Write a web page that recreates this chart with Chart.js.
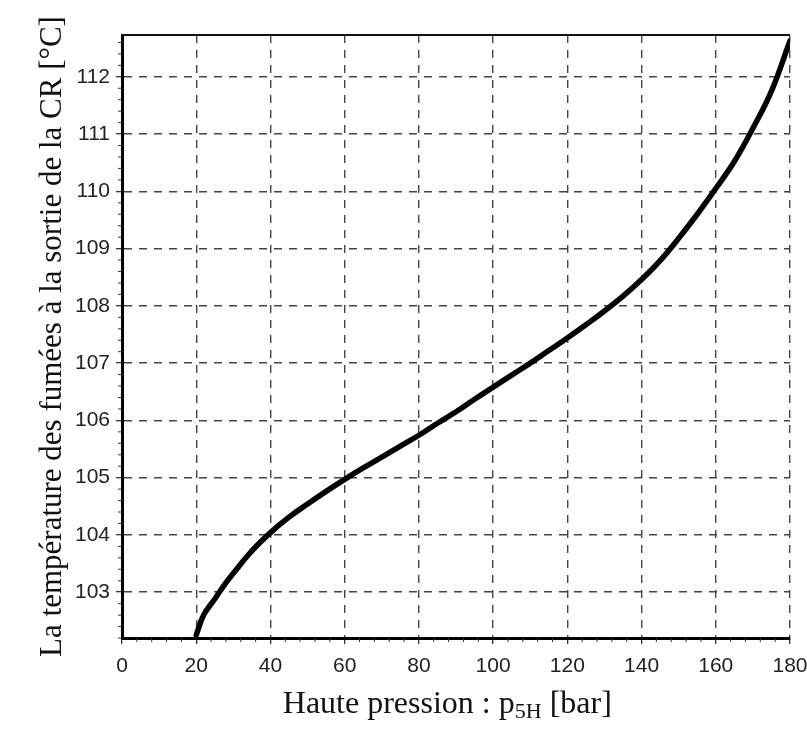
<!DOCTYPE html>
<html>
<head>
<meta charset="utf-8">
<script src="https://cdn.jsdelivr.net/npm/chart.js@4/dist/chart.umd.min.js"></script>
<style>
  html, body { margin: 0; padding: 0; background: #ffffff; }
  #wrap { width: 807px; height: 734px; position: relative; }
</style>
</head>
<body>
<div id="wrap"><canvas id="c" width="807" height="734"></canvas></div>
<script>
// Data
const pressure = [20, 22, 25, 27.5, 30, 35, 40, 45, 50, 55, 60, 65, 70, 75, 80, 85, 90, 95, 100, 105, 110, 115, 120, 125, 130, 135, 140, 145, 150, 155, 160, 165, 170, 175, 180];
const temperature = [102.25, 102.6, 102.88, 103.12, 103.33, 103.72, 104.04, 104.31, 104.54, 104.76, 104.97, 105.17, 105.36, 105.55, 105.74, 105.95, 106.15, 106.37, 106.58, 106.79, 107.0, 107.22, 107.44, 107.67, 107.91, 108.17, 108.46, 108.79, 109.18, 109.6, 110.05, 110.52, 111.1, 111.75, 112.63];
const xTicks = [0, 20, 40, 60, 80, 100, 120, 140, 160, 180];
const yTicks = [103, 104, 105, 106, 107, 108, 109, 110, 111, 112];
const xTitleParts = ["Haute pression : p", "5H", " [bar]"];
const yTitle = "La température des fumées à la sortie de la CR [°C]";

const points = pressure.map((p, i) => ({ x: p, y: temperature[i] }));

const framePlugin = {
  id: 'frame',
  afterDraw(chart) {
    const ctx = chart.ctx;
    const a = chart.chartArea;
    const xs = chart.scales.x, ys = chart.scales.y;
    ctx.save();
    ctx.setLineDash([]);
    // top solid border
    ctx.strokeStyle = '#111';
    ctx.lineWidth = 2;
    ctx.beginPath();
    ctx.moveTo(a.left - 1, a.top);
    ctx.lineTo(a.right, a.top);
    ctx.stroke();
    // minor ticks
    ctx.lineWidth = 1;
    ctx.strokeStyle = '#333';
    for (let v = 0; v <= 180; v += 4) {
      if (v % 20 === 0) continue;
      const px = xs.getPixelForValue(v);
      ctx.beginPath();
      ctx.moveTo(px, a.bottom);
      ctx.lineTo(px, a.bottom + 4);
      ctx.stroke();
    }
    for (let k = 0; k < 60; k++) {
      const v = 102.2 + k * 0.2;
      if (v > ys.max) break;
      if (Math.abs(v - Math.round(v)) < 0.01) continue;
      const py = ys.getPixelForValue(v);
      ctx.beginPath();
      ctx.moveTo(a.left, py);
      ctx.lineTo(a.left - 4, py);
      ctx.stroke();
    }
    // axis titles
    ctx.fillStyle = '#111';
    ctx.textBaseline = 'alphabetic';
    const big = '32px "Liberation Serif"';
    const small = '22px "Liberation Serif"';
    ctx.font = big;
    const w0 = ctx.measureText(xTitleParts[0]).width;
    const w2 = ctx.measureText(xTitleParts[2]).width;
    ctx.font = small;
    const w1 = ctx.measureText(xTitleParts[1]).width;
    const total = w0 + w1 + w2;
    const cx = a.left + (a.right - a.left) * 0.487;
    let x = cx - total / 2;
    const by = chart.height - 21;
    ctx.textAlign = 'left';
    ctx.font = big;
    ctx.fillText(xTitleParts[0], x, by);
    x += w0;
    ctx.font = small;
    ctx.fillText(xTitleParts[1], x, by + 5);
    x += w1;
    ctx.font = big;
    ctx.fillText(xTitleParts[2], x, by);

    ctx.translate(61, (a.top + a.bottom) / 2);
    ctx.rotate(-Math.PI / 2);
    ctx.textAlign = 'center';
    ctx.font = '31px "Liberation Serif"';
    ctx.fillText(yTitle, 0, 0);
    ctx.restore();
  }
};

const gridOpts = {
  color: '#444',
  lineWidth: 1.4,
  tickBorderDash: [],
  tickLength: 6,
  tickColor: '#222',
  tickWidth: 1.2
};

new Chart(document.getElementById('c'), {
  type: 'scatter',
  data: {
    datasets: [{
      data: points,
      showLine: true,
      borderColor: '#000',
      backgroundColor: '#000',
      borderWidth: 5.5,
      pointRadius: 0,
      tension: 0.4,
      borderCapStyle: 'round'
    }]
  },
  options: {
    responsive: false,
    animation: false,
    layout: { padding: { left: 0, right: 17, top: 35, bottom: 0 } },
    plugins: { legend: { display: false }, tooltip: { enabled: false } },
    scales: {
      x: {
        type: 'linear',
        min: 0, max: 180,
        afterFit(s) { s.height = 96; s.paddingLeft = 0; s.paddingRight = 0; },
        afterBuildTicks(s) { s.ticks = xTicks.map(v => ({ value: v })); },
        ticks: {
          font: { family: '"Liberation Sans"', size: 21 },
          color: '#222',
          padding: 10,
          maxRotation: 0
        },
        grid: gridOpts,
        border: { color: '#000', width: 3, dash: [8, 7] }
      },
      y: {
        type: 'linear',
        min: 102.2, max: 112.73,
        afterFit(s) { s.width = 122; s.paddingTop = 0; s.paddingBottom = 0; },
        afterBuildTicks(s) { s.ticks = yTicks.map(v => ({ value: v })); },
        ticks: {
          font: { family: '"Liberation Sans"', size: 21 },
          color: '#222',
          padding: 6
        },
        grid: gridOpts,
        border: { color: '#000', width: 3, dash: [8, 7] }
      }
    }
  },
  plugins: [framePlugin]
});
</script>
</body>
</html>
